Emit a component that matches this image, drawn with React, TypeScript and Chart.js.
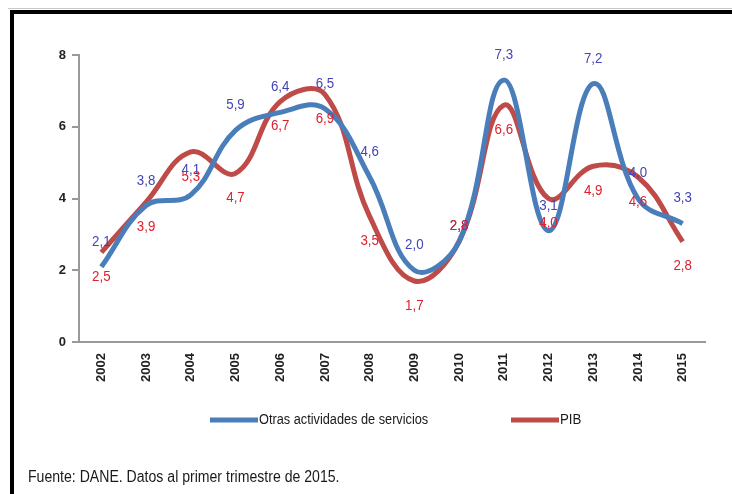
import React, { useEffect, useRef } from "react";
import { Chart, registerables } from "chart.js";

Chart.register(...registerables);

const years = ["2002", "2003", "2004", "2005", "2006", "2007", "2008", "2009", "2010", "2011", "2012", "2013", "2014", "2015"];
const otrasServicios = [2.1, 3.8, 4.1, 5.9, 6.4, 6.5, 4.6, 2.0, 2.8, 7.3, 3.1, 7.2, 4.0, 3.3];
const pib = [2.5, 3.9, 5.3, 4.7, 6.7, 6.9, 3.5, 1.7, 2.8, 6.6, 4.0, 4.9, 4.6, 2.8];
const yTicks = [0, 2, 4, 6, 8];
const serieNames = ["Otras actividades de servicios", "PIB"];
const sourceNote = "Fuente: DANE. Datos al primer trimestre de 2015.";

const FONT = "'Liberation Sans', Arial, sans-serif";
const BLUE = "#4a7ebb";
const RED = "#be4b48";
const BLUE_TXT = "#4444b8";
const RED_TXT = "#e0202c";

const fmt = (v: number) => v.toFixed(1).replace(".", ",");

function narrowText(ctx: any, text: string, x: number, y: number, sx: number) {
  ctx.save();
  ctx.translate(x, y);
  ctx.scale(sx, 1);
  ctx.fillText(text, 0, 0);
  ctx.restore();
}

const decorPlugin = {
  id: "decor",
  beforeDraw(chart: any) {
    const ctx = chart.ctx;
    ctx.save();
    ctx.fillStyle = "#ffffff";
    ctx.fillRect(0, 0, chart.width, chart.height);
    ctx.fillStyle = "#c8c8c8";
    ctx.fillRect(8, 8, chart.width - 8, 1);
    ctx.fillStyle = "#000000";
    ctx.fillRect(10, 10, chart.width - 10, 4);
    ctx.fillRect(10, 10, 4, chart.height - 10);
    ctx.restore();
  },
  afterDraw(chart: any) {
    const ctx = chart.ctx;
    ctx.save();
    // data labels
    ctx.textAlign = "center";
    ctx.textBaseline = "middle";
    ctx.font = `14px ${FONT}`;
    chart.data.datasets.forEach((ds: any, di: number) => {
      const meta = chart.getDatasetMeta(di);
      meta.data.forEach((pt: any, i: number) => {
        let dy = di === 0 ? -25 : 25;
        if (i === 8) dy = -15;
        ctx.fillStyle = di === 0 ? BLUE_TXT : RED_TXT;
        narrowText(ctx, fmt(ds.data[i]), pt.x, pt.y + dy, 0.95);
      });
    });
    // legend
    const ly = 420;
    ctx.lineWidth = 5;
    ctx.lineCap = "butt";
    ctx.strokeStyle = BLUE;
    ctx.beginPath();
    ctx.moveTo(210, ly);
    ctx.lineTo(258, ly);
    ctx.stroke();
    ctx.strokeStyle = RED;
    ctx.beginPath();
    ctx.moveTo(511, ly);
    ctx.lineTo(559, ly);
    ctx.stroke();
    ctx.fillStyle = "#1a1a1a";
    ctx.textAlign = "left";
    ctx.font = `14px ${FONT}`;
    narrowText(ctx, serieNames[0], 259, ly, 0.91);
    narrowText(ctx, serieNames[1], 560, ly, 0.95);
    // footer
    ctx.font = `16px ${FONT}`;
    narrowText(ctx, sourceNote, 28, 478, 0.88);
    ctx.restore();
  },
};

export default function App() {
  const ref = useRef<HTMLCanvasElement>(null);
  useEffect(() => {
    if (!ref.current) return;
    const chart = new Chart(ref.current, {
      type: "line",
      data: {
        labels: years,
        datasets: [
          {
            label: serieNames[0],
            data: otrasServicios,
            borderColor: BLUE,
            backgroundColor: BLUE,
            borderWidth: 5,
            pointRadius: 0,
            tension: 0.4,
          },
          {
            label: serieNames[1],
            data: pib,
            borderColor: RED,
            backgroundColor: RED,
            borderWidth: 5,
            pointRadius: 0,
            tension: 0.4,
          },
        ],
      },
      options: {
        responsive: false,
        animation: false,
        devicePixelRatio: 1,
        layout: { padding: { left: 0, top: 55, right: 27, bottom: 92 } },
        plugins: {
          legend: { display: false },
          tooltip: { enabled: false },
        },
        scales: {
          x: {
            offset: true,
            grid: { display: false, drawTicks: false },
            border: { display: true, color: "#999999", width: 2 },
            ticks: {
              autoSkip: false,
              minRotation: 90,
              maxRotation: 90,
              padding: 11,
              color: "#222222",
              font: { family: FONT, size: 13, weight: "bold" },
            },
            afterFit(scale: any) {
              scale.height = 60;
            },
          },
          y: {
            min: 0,
            max: 8,
            afterBuildTicks(scale: any) {
              scale.ticks = yTicks.map((v) => ({ value: v }));
            },
            grid: {
              display: true,
              drawOnChartArea: false,
              drawTicks: true,
              tickLength: 7,
              color: "#999999",
              lineWidth: 2,
            },
            border: { display: true, color: "#999999", width: 2 },
            ticks: {
              padding: 6,
              color: "#222222",
              font: { family: FONT, size: 13, weight: "bold" },
            },
            afterFit(scale: any) {
              scale.width = 79;
            },
          },
        },
      },
      plugins: [decorPlugin],
    } as any);
    return () => chart.destroy();
  }, []);
  return (
    <div style={{ position: "fixed", left: 0, top: 0, width: 732, height: 494, background: "#fff" }}>
      <canvas ref={ref} width={732} height={494} style={{ display: "block" }} />
    </div>
  );
}
